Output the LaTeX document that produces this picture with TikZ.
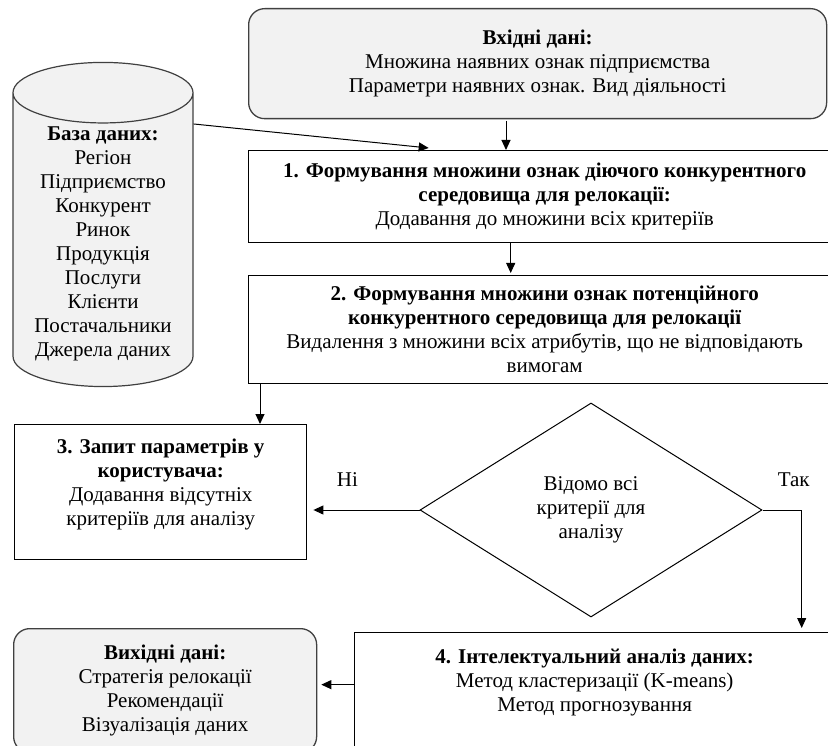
\documentclass[tikz,border=0pt]{standalone}
\usepackage{fontspec}
\setmainfont{Liberation Serif}
\usetikzlibrary{shapes.geometric, arrows.meta}
\tikzstyle{dataBox} = [rectangle, rounded corners=16pt, draw=black!75, line width=1.3pt, fill=gray!10, align=center, inner sep=4pt]
\tikzstyle{stepBox} = [rectangle, draw, line width=1.4pt, align=center, inner sep=4pt]
\tikzstyle{dbase} = [cylinder, shape border rotate=90, draw=black!75, line width=1.2pt, fill=gray!10, align=center, aspect=0.42]
\tikzstyle{decision} = [diamond, draw, line width=1pt, align=center, inner sep=0pt]
\tikzstyle{flow} = [-{Triangle[length=10pt,width=9pt]}, line width=1pt]

\begin{document}
\begin{tikzpicture}[x=1pt, y=-1pt, font=\fontsize{21}{24}\selectfont]
	\useasboundingbox (0,0) rectangle (828,746);
	\clip (0,0) rectangle (828,746);
	% inputs
	\node [dataBox, anchor=north west, minimum width=578pt, minimum height=110pt](in) at (248,8) {\textbf{Вхідні дані:}\\Множина наявних ознак підприємства\\Параметри наявних ознак. Вид діяльності};
	\node [dbase, minimum width=180pt, minimum height=300pt](db) at (103,244) {\textbf{База даних:}\\Регіон\\Підприємство\\Конкурент\\Ринок\\Продукція\\Послуги\\Клієнти\\Постачальники\\Джерела даних};
	% steps
	\node [stepBox, anchor=north west, minimum width=592pt, minimum height=92pt](b1) at (248,150) {\textbf{1. Формування множини ознак діючого конкурентного}\\\textbf{середовища для релокації:}\\Додавання до множини всіх критеріїв};
	\node [stepBox, anchor=north west, minimum width=592pt, minimum height=108pt](b2) at (248,275) {\textbf{2. Формування множини ознак потенційного}\\\textbf{конкурентного середовища для релокації}\\Видалення з множини всіх атрибутів, що не відповідають\\вимогам};
	\node [stepBox, anchor=north west, inner ysep=14pt](b3) at (14,424) {\parbox[t][107pt][t]{284pt}{\centering\textbf{3. Запит параметрів у}\\\textbf{користувача:}\\Додавання відсутніх\\критеріїв для аналізу}};
	\node [decision, minimum width=342pt, minimum height=214pt, aspect=1.6](dec) at (591,510) {Відомо всі\\критерії для\\аналізу};
	\node [stepBox, anchor=north west, inner ysep=16pt](b4) at (354,632) {\parbox[t][120pt][t]{472pt}{\centering\textbf{4. Інтелектуальний аналіз даних:}\\Метод кластеризації (K-means)\\Метод прогнозування}};
	% outputs
	\node [dataBox, anchor=north west, minimum width=303pt, minimum height=124pt](out) at (13,628) {\textbf{Вихідні дані:}\\Стратегія релокації\\Рекомендації\\Візуалізація даних};

	\coordinate (c1) at (506,121);
	\coordinate (c7) at ([xshift=4pt,yshift=6pt]out.east);
	\draw [flow] (c1) -- (c1 |- b1.north);
	\draw [flow] ([yshift=120pt]db.east) -- ([xshift=-116pt,yshift=2pt]b1.north);
	\draw [flow] ([xshift=-34pt]b1.south) -- ([xshift=-34pt,yshift=2pt]b2.north);
	\draw [flow] ([xshift=12pt]b2.south west) -- ([xshift=12pt]b2.south west |- b3.north);
	\draw [flow] (dec.west) -- ([xshift=6pt]b3.east |- dec.west) node[pos=0.68, yshift=30pt]{Ні};
	\draw [flow] (dec.east) -| ([xshift=207pt,yshift=4pt]b4.north) node[pos=0.5, xshift=-8pt, yshift=30pt]{Так};
	\draw [flow] (b4.west |- c7) -- (c7);
\end{tikzpicture}
\end{document}
